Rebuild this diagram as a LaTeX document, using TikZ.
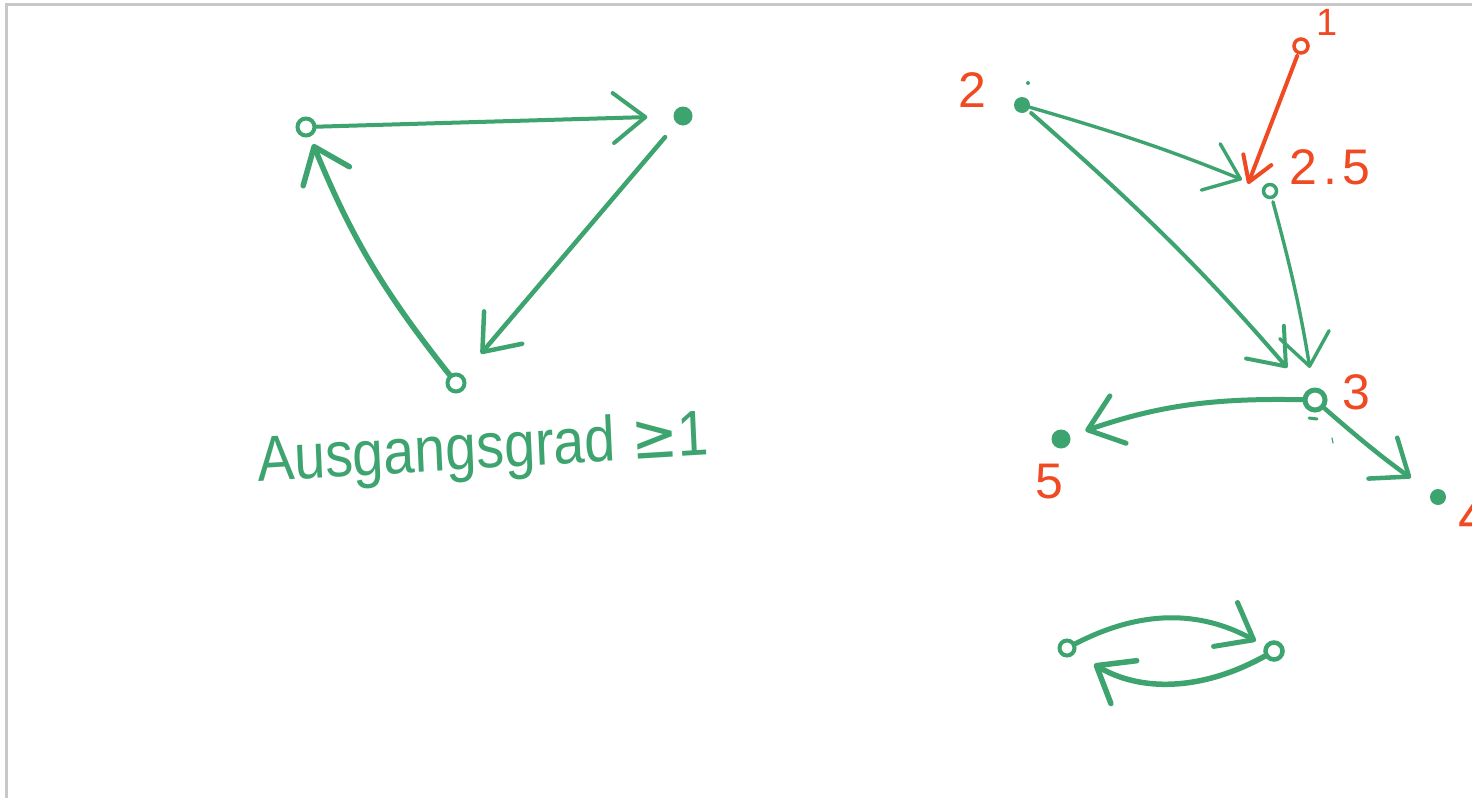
\documentclass[tikz,border=0pt]{standalone}
\usepackage{fontspec}
\setmainfont{Liberation Sans}
\newfontfamily\symfont{DejaVu Sans}
\usetikzlibrary{arrows.meta}
\definecolor{pen}{RGB}{62,164,111}
\definecolor{redpen}{RGB}{240,74,35}
\definecolor{frame}{RGB}{200,200,200}
\tikzset{
  opendot/.style={circle,draw=pen,line width=4pt,inner sep=0pt,minimum size=17pt},
  filldot/.style={circle,fill=pen,inner sep=0pt,minimum size=19pt},
  edge/.style={draw=pen,line width=5pt,line cap=round,-{Straight Barb[length=32pt,width=50pt,round]}},
  thinedge/.style={edge,line width=3.4pt},
  lab/.style={text=redpen,font=\fontsize{50}{50}\selectfont,inner sep=0pt}
}
\begin{document}
\begin{tikzpicture}[x=1pt,y=-1pt]
\useasboundingbox (0,0) rectangle (1472,798);
\fill[white] (0,0) rectangle (1472,798);
% window frame
\draw[frame,line width=3pt] (6.5,798) -- (6.5,4.5) -- (1472,4.5);

% ---- left graph ----
\node[opendot] (a) at (306,127) {};
\node[filldot] (b) at (683,116) {};
\node[opendot] (c) at (456,383) {};
\path[edge,line width=4pt,shorten >=26pt] (a) -- (b);
\path[edge,line width=4.5pt,shorten <=18pt,shorten >=28pt] (b) -- (c);
\path[edge,line width=5.5pt,shorten >=8pt] (c) to[bend left=8] (a);
\node[text=pen,font=\fontsize{64}{64}\selectfont,xscale=0.87,rotate=3,anchor=base west,inner sep=0pt] (txt) at (258,482) {Ausgangsgrad {\symfont ≥}1};

% ---- right graph ----
\node[filldot,minimum size=16pt] (n2) at (1022,105) {};
\node[circle,draw=redpen,line width=3.5pt,inner sep=0pt,minimum size=14pt] (n1) at (1301,46) {};
\node[opendot,minimum size=13pt,line width=3.5pt] (n25) at (1270,191) {};
\node[opendot,minimum size=20pt,line width=5pt] (n3) at (1315,400) {};
\node[filldot] (n5) at (1061,439) {};
\node[filldot,minimum size=16pt] (n4) at (1438,497) {};
\coordinate (t1) at (1248,184);

\path[thinedge,shorten >=22pt] (n2) to[bend left=3] (n25);
\path[edge,line width=4pt,shorten <=4pt,shorten >=30pt] (n2) to[bend left=4] (n3);
\path[thinedge,shorten <=3pt,shorten >=20pt] (n25) to[bend left=3] (n3);
\path[edge,shorten >=16pt] (n3) to[bend right=10] (n5);
\path[edge,line width=4.5pt,shorten >=25pt] (n3) to[bend right=3] (n4);
\path[draw=redpen,line width=4pt,line cap=round,-{Straight Barb[length=24pt,width=30pt,round]},shorten <=2pt] (n1) -- (t1);

\node[lab] (l2) at (972,90) {2};
\node[lab,font=\fontsize{38}{38}\selectfont] (l1) at (1327,22) {1};
\node[lab] (l25) at (1330,167) {2\kern6pt.\kern6pt5};
\node[lab] (l3) at (1356,392) {3};
\node[lab] (l5) at (1049,482) {5};
\node[lab,font=\fontsize{56}{56}\selectfont,anchor=west] (l4) at (1458,516) {4};

% stray marks
\fill[pen] (1028,83) circle (2pt);
\draw[pen,line width=3pt,line cap=round] (1309,418) -- (1317,419);
\draw[pen,line width=1.2pt,line cap=round] (1332,438) -- (1333,443);

% ---- bottom pair ----
\node[opendot,minimum size=15pt,line width=4pt] (p) at (1067,648) {};
\node[opendot,minimum size=17pt,line width=4.5pt] (q) at (1274,651) {};
\path[edge,line width=5pt,shorten >=10pt] (p) to[bend left=28] (q);
\path[edge,line width=5.5pt,shorten >=22pt] (q) to[bend left=30] (p);
\end{tikzpicture}
\end{document}
